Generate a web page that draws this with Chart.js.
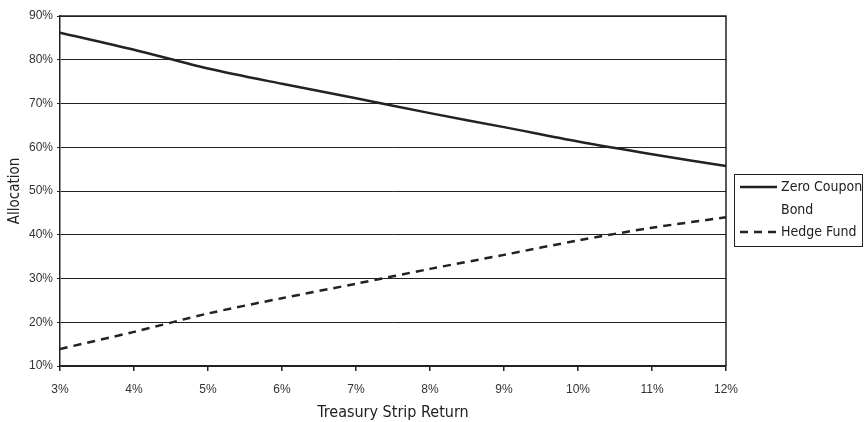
<!DOCTYPE html>
<html>
<head>
<meta charset="utf-8">
<script src="https://cdn.jsdelivr.net/npm/chart.js@4"></script>
<style>
    html, body { margin: 0; padding: 0; background: #fff; }
    #wrap { width: 865px; height: 422px; position: relative; }
</style>
</head>
<body>
<div id="wrap"><canvas id="allocChart" width="865" height="422"></canvas></div>
<script>
// treasury strip return (x, in %)
const returns = [3, 4, 5, 6, 7, 8, 9, 10, 11, 12];
// allocation in %
const zeroCoupon = [86.2, 82.3, 78.0, 74.5, 71.2, 67.8, 64.6, 61.3, 58.4, 55.7];
const hedgeFund = [13.9, 17.8, 22.0, 25.5, 28.8, 32.2, 35.4, 38.7, 41.6, 44.0];
const seriesNames = ['Zero Coupon Bond', 'Hedge Fund'];

const narrow = '"Liberation Sans Narrow", "DejaVu Sans Condensed", "Arial Narrow", sans-serif';
const ink = '#222';

// legend drawn in a box to the right, like the original
const boxLegend = {
    id: 'boxLegend',
    afterDraw(chart) {
        const ctx = chart.ctx;
        const area = chart.chartArea;
        const x0 = area.right + 8;
        const y0 = 174;
        ctx.save();
        ctx.strokeStyle = ink;
        ctx.lineWidth = 1;
        ctx.strokeRect(x0 + 0.5, y0 + 0.5, 128, 72);

        ctx.font = '14px ' + narrow;
        ctx.fillStyle = ink;
        ctx.textBaseline = 'middle';
        const rows = [
            { ds: 0, lines: ['Zero Coupon', 'Bond'], y: y0 + 13 },
            { ds: 1, lines: ['Hedge Fund'], y: y0 + 58 }
        ];
        rows.forEach(r => {
            const ds = chart.data.datasets[r.ds];
            ctx.beginPath();
            ctx.lineWidth = ds.borderWidth;
            ctx.setLineDash(ds.borderDash || []);
            ctx.moveTo(x0 + 6, r.y);
            ctx.lineTo(x0 + 43, r.y);
            ctx.stroke();
            ctx.setLineDash([]);
            r.lines.forEach((t, i) => {
                ctx.fillText(t, x0 + 47, r.y + i * 23);
            });
        });
        ctx.restore();
    }
};

// top and right frame of the plot area
const frame = {
    id: 'frame',
    afterDatasetsDraw(chart) {
        const { ctx, chartArea: a } = chart;
        ctx.save();
        ctx.strokeStyle = ink;
        ctx.lineWidth = 1.5;
        ctx.beginPath();
        ctx.moveTo(a.left, a.top);
        ctx.lineTo(a.right, a.top);
        ctx.lineTo(a.right, a.bottom);
        ctx.stroke();
        ctx.restore();
    }
};

const ctx = document.getElementById('allocChart').getContext('2d');
new Chart(ctx, {
    type: 'line',
    data: {
        datasets: [
            {
                label: seriesNames[0],
                data: returns.map((r, i) => ({ x: r, y: zeroCoupon[i] })),
                borderColor: ink,
                borderWidth: 2.5,
                pointRadius: 0,
                tension: 0.3
            },
            {
                label: seriesNames[1],
                data: returns.map((r, i) => ({ x: r, y: hedgeFund[i] })),
                borderColor: ink,
                borderWidth: 2.5,
                borderDash: [8, 6],
                pointRadius: 0,
                tension: 0.3
            }
        ]
    },
    options: {
        responsive: false,
        animation: false,
        layout: {
            padding: { left: 0, right: 139, top: 16, bottom: 0 }
        },
        plugins: {
            legend: { display: false },
            tooltip: { enabled: false }
        },
        scales: {
            x: {
                type: 'linear',
                min: 3,
                max: 12,
                afterFit: s => { s.height = 56; },
                ticks: {
                    stepSize: 1,
                    padding: 11,
                    color: '#333',
                    font: { family: 'Liberation Sans, Arial, sans-serif', size: 12 },
                    callback: v => v + '%'
                },
                grid: {
                    drawOnChartArea: false,
                    drawTicks: true,
                    tickLength: 5,
                    color: ink,
                    lineWidth: 1.5
                },
                border: { color: ink, width: 1.5 },
                title: {
                    display: true,
                    text: 'Treasury Strip Return',
                    color: ink,
                    padding: { top: 0, bottom: 0 },
                    font: { family: narrow, size: 16 }
                }
            },
            y: {
                min: 10,
                max: 90,
                afterFit: s => { s.width = 60; },
                ticks: {
                    stepSize: 10,
                    padding: 4,
                    color: '#333',
                    font: { family: 'Liberation Sans, Arial, sans-serif', size: 12 },
                    callback: v => v + '%'
                },
                grid: {
                    color: ink,
                    lineWidth: 1,
                    tickLength: 3
                },
                border: { color: ink, width: 1.5 },
                title: {
                    display: true,
                    text: 'Allocation',
                    color: ink,
                    padding: { top: 6, bottom: 0 },
                    font: { family: narrow, size: 15 }
                }
            }
        }
    },
    plugins: [frame, boxLegend]
});
</script>
</body>
</html>
